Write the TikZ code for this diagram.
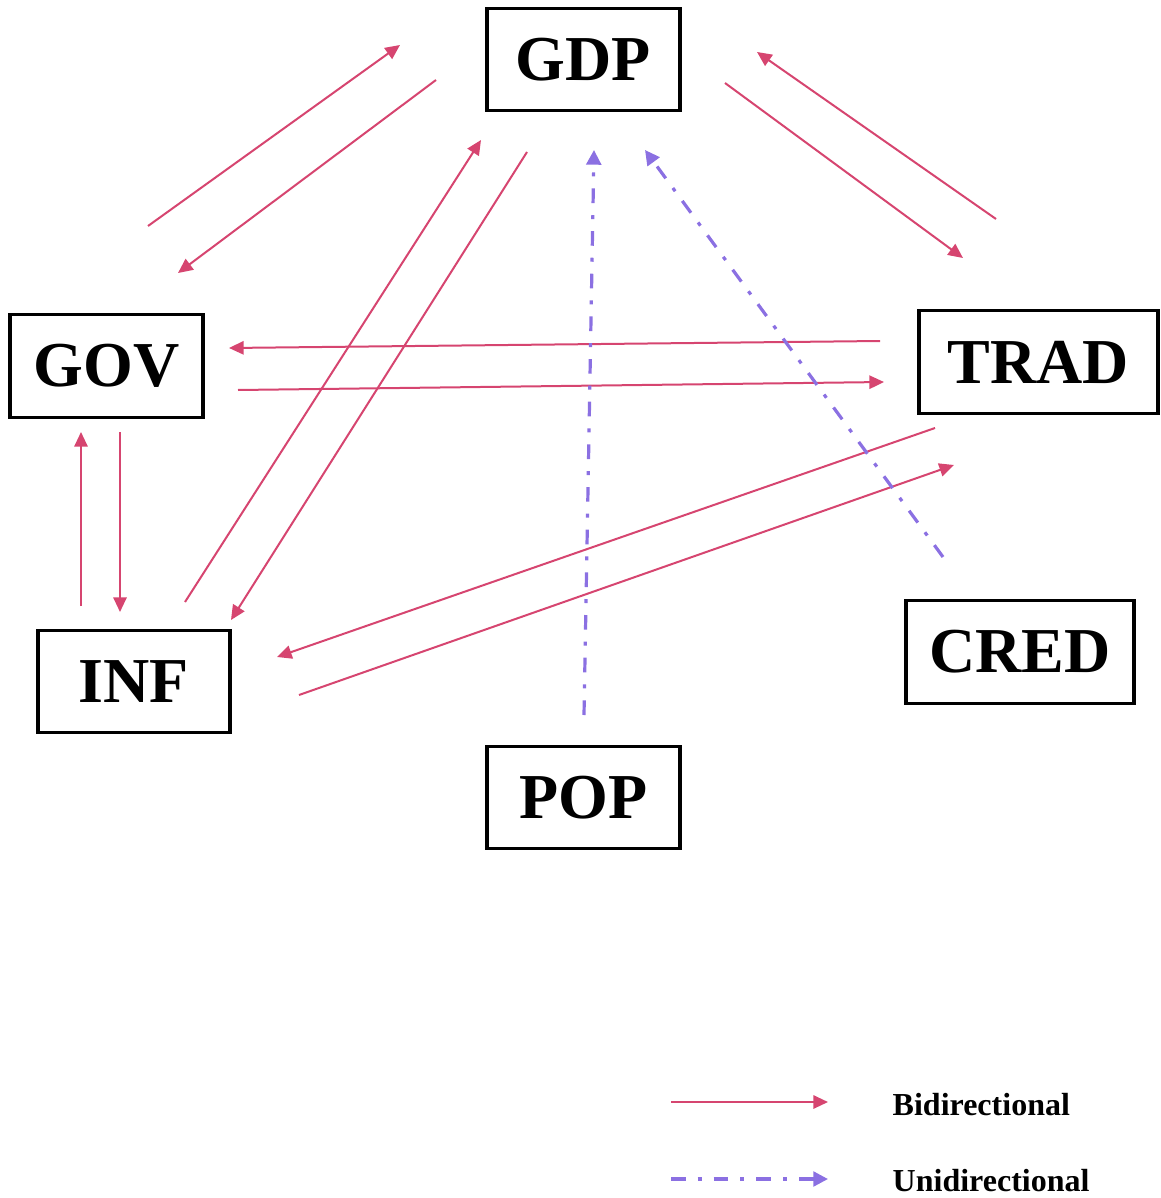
\documentclass[tikz,border=0pt]{standalone}
\usepackage{fontspec}
\setmainfont{Liberation Serif}
\usetikzlibrary{arrows.meta}
\definecolor{bipink}{RGB}{214,69,112}
\definecolor{unipurple}{RGB}{139,112,226}
\begin{document}
\begin{tikzpicture}[x=0.75pt,y=-0.75pt,
  varbox/.style={draw=black,line width=2.4pt,minimum width=#1*0.75pt,minimum height=77pt,inner sep=0pt,font=\fontsize{48}{50}\selectfont\bfseries},
  biarrow/.style={draw=bipink,line width=1.5pt,-{Triangle[length=11pt,width=10pt]}},
  uniarrow/.style={draw=unipurple,line width=2.4pt,dash pattern=on 11pt off 9pt on 3pt off 9pt,-{Triangle[length=11pt,width=11pt]}},
  legtext/.style={anchor=west,font=\fontsize{24}{26}\selectfont\bfseries}]
\useasboundingbox (0,0) rectangle (1160,1198);
\node[varbox=193] (GDP) at (583.5,59.5) {GDP};
\node[varbox=193] (GOV) at (106.5,366) {GOV};
\node[varbox=239] (TRAD) at (1038.5,362) {TRAD};
\node[varbox=192] (INF) at (134,681.5) {INF};
\node[varbox=228] (CRED) at (1020,652) {CRED};
\node[varbox=193] (POP) at (583.5,797.5) {POP};
% endpoints
\coordinate (a1s) at (148,226); \coordinate (a1e) at (400,45);
\coordinate (a2s) at (436,80); \coordinate (a2e) at (178,273);
\coordinate (a3s) at (996,219); \coordinate (a3e) at (757,52);
\coordinate (a4s) at (725,83); \coordinate (a4e) at (963,258);
\coordinate (a5s) at (880,341); \coordinate (a5e) at (229,348);
\coordinate (a6s) at (238,390); \coordinate (a6e) at (884,382);
\coordinate (a7s) at (81,606); \coordinate (a7e) at (81,432);
\coordinate (a8s) at (120,432); \coordinate (a8e) at (120,612);
\coordinate (a9s) at (185,602); \coordinate (a9e) at (481,140);
\coordinate (a10s) at (527,152); \coordinate (a10e) at (231,620);
\coordinate (a11s) at (935,428); \coordinate (a11e) at (277,657);
\coordinate (a12s) at (299,695); \coordinate (a12e) at (954,465);
\coordinate (a13s) at (584,715); \coordinate (a13e) at (594,150);
\coordinate (a14s) at (943,557); \coordinate (a14e) at (645,150);
\draw[biarrow] (a1s) -- (a1e);
\draw[biarrow] (a2s) -- (a2e);
\draw[biarrow] (a3s) -- (a3e);
\draw[biarrow] (a4s) -- (a4e);
\draw[biarrow] (a5s) -- (a5e);
\draw[biarrow] (a6s) -- (a6e);
\draw[biarrow] (a7s) -- (a7e);
\draw[biarrow] (a8s) -- (a8e);
\draw[biarrow] (a9s) -- (a9e);
\draw[biarrow] (a10s) -- (a10e);
\draw[biarrow] (a11s) -- (a11e);
\draw[biarrow] (a12s) -- (a12e);
\draw[uniarrow] (a13s) -- (a13e);
\draw[uniarrow] (a14s) -- (a14e);
% legend
\coordinate (l1s) at (671,1102); \coordinate (l1e) at (828,1102);
\coordinate (l2s) at (671,1179); \coordinate (l2e) at (828,1179);
\draw[biarrow] (l1s) -- (l1e);
\draw[uniarrow] (l2s) -- (l2e);
\node[legtext] (legbi) at (888,1105) {Bidirectional};
\node[legtext] (leguni) at (888,1181) {Unidirectional};
\end{tikzpicture}
\end{document}
